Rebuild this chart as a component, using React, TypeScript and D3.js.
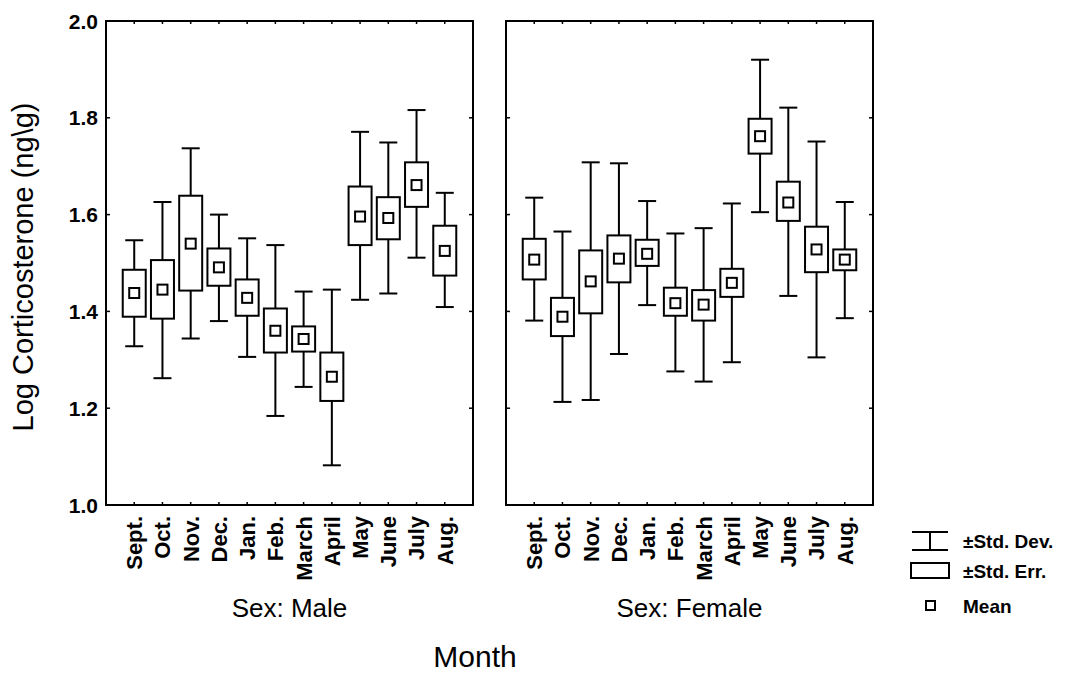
import React from "react";
import * as d3 from "d3";

const months = ["Sept.", "Oct.", "Nov.", "Dec.", "Jan.", "Feb.", "March", "April", "May", "June", "July", "Aug."];
const yTicks = [1.0, 1.2, 1.4, 1.6, 1.8, 2.0];

const maleMean = [1.438, 1.445, 1.540, 1.491, 1.428, 1.360, 1.343, 1.265, 1.596, 1.593, 1.661, 1.525];
const maleSeHigh = [1.486, 1.506, 1.639, 1.530, 1.466, 1.406, 1.369, 1.315, 1.658, 1.636, 1.708, 1.577];
const maleSeLow = [1.389, 1.385, 1.443, 1.453, 1.391, 1.315, 1.317, 1.215, 1.537, 1.549, 1.616, 1.474];
const maleSdHigh = [1.547, 1.626, 1.737, 1.600, 1.551, 1.537, 1.441, 1.445, 1.771, 1.749, 1.816, 1.645];
const maleSdLow = [1.328, 1.262, 1.344, 1.380, 1.306, 1.184, 1.244, 1.082, 1.424, 1.437, 1.511, 1.409];

const femaleMean = [1.507, 1.389, 1.462, 1.509, 1.519, 1.417, 1.414, 1.459, 1.762, 1.625, 1.528, 1.507];
const femaleSeHigh = [1.550, 1.428, 1.526, 1.557, 1.548, 1.449, 1.444, 1.488, 1.798, 1.668, 1.575, 1.528];
const femaleSeLow = [1.466, 1.349, 1.396, 1.460, 1.494, 1.391, 1.381, 1.430, 1.726, 1.587, 1.481, 1.485];
const femaleSdHigh = [1.635, 1.565, 1.708, 1.706, 1.628, 1.561, 1.572, 1.623, 1.920, 1.821, 1.751, 1.626];
const femaleSdLow = [1.381, 1.213, 1.217, 1.312, 1.413, 1.276, 1.255, 1.295, 1.605, 1.432, 1.305, 1.386];

const panelLabels = ["Sex: Male", "Sex: Female"];
const legendLabels = ["\u00b1Std. Dev.", "\u00b1Std. Err.", "Mean"];

const FONT = "'Liberation Sans', Arial, Helvetica, sans-serif";

type Series = { mean: number[]; seHi: number[]; seLo: number[]; sdHi: number[]; sdLo: number[] };
const panels: { label: string; x0: number; x1: number; s: Series }[] = [
  { label: panelLabels[0], x0: 106, x1: 473, s: { mean: maleMean, seHi: maleSeHigh, seLo: maleSeLow, sdHi: maleSdHigh, sdLo: maleSdLow } },
  { label: panelLabels[1], x0: 506, x1: 873, s: { mean: femaleMean, seHi: femaleSeHigh, seLo: femaleSeLow, sdHi: femaleSdHigh, sdLo: femaleSdLow } },
];

const TOP = 21;
const BOTTOM = 505;

export default function App() {
  const y = d3.scaleLinear().domain([1, 2]).range([BOTTOM, TOP]);
  const boxW = 23;
  const capW = 18;
  const meanS = 10;
  const sw = 2;

  return (
    <svg width={1073} height={675} style={{ position: "absolute", left: 0, top: 0, background: "#fff" }} fontFamily={FONT}>
      <rect x={0} y={0} width={1073} height={675} fill="#fff" />
      {/* y axis tick labels */}
      {yTicks.map((t) => (
        <text key={t} x={98} y={y(t)} dy="0.36em" textAnchor="end" fontSize={21} fontWeight="bold" fill="#000">
          {d3.format(".1f")(t)}
        </text>
      ))}
      <text transform={`translate(33,${(TOP + BOTTOM) / 2 + 4}) rotate(-90)`} textAnchor="middle" fontSize={29} fill="#000">
        Log Corticosterone (ng\g)
      </text>

      {panels.map((p, pi) => {
        const x = d3.scalePoint<string>().domain(months).range([p.x0, p.x1]).padding(1);
        return (
          <g key={pi}>
            <rect x={p.x0} y={TOP} width={p.x1 - p.x0} height={BOTTOM - TOP} fill="none" stroke="#000" strokeWidth={sw} />
            {yTicks.map((t) => (
              <g key={t}>
                <line x1={p.x0} x2={p.x0 + 4} y1={y(t)} y2={y(t)} stroke="#000" strokeWidth={1.5} />
                <line x1={p.x1 - 4} x2={p.x1} y1={y(t)} y2={y(t)} stroke="#000" strokeWidth={1.5} />
              </g>
            ))}
            {months.map((m) => (
              <g key={m}>
                <line x1={x(m)!} x2={x(m)!} y1={TOP} y2={TOP + 3} stroke="#000" strokeWidth={1.5} />
                <line x1={x(m)!} x2={x(m)!} y1={BOTTOM} y2={BOTTOM - 3} stroke="#000" strokeWidth={1.5} />
              </g>
            ))}
            {months.map((m, i) => {
              const cx = x(m)!;
              return (
                <g key={m} stroke="#000" strokeWidth={sw} fill="none">
                  <line x1={cx} x2={cx} y1={y(p.s.sdHi[i])} y2={y(p.s.seHi[i])} />
                  <line x1={cx} x2={cx} y1={y(p.s.seLo[i])} y2={y(p.s.sdLo[i])} />
                  <line x1={cx - capW / 2} x2={cx + capW / 2} y1={y(p.s.sdHi[i])} y2={y(p.s.sdHi[i])} />
                  <line x1={cx - capW / 2} x2={cx + capW / 2} y1={y(p.s.sdLo[i])} y2={y(p.s.sdLo[i])} />
                  <rect x={cx - boxW / 2} y={y(p.s.seHi[i])} width={boxW} height={y(p.s.seLo[i]) - y(p.s.seHi[i])} />
                  <rect x={cx - meanS / 2} y={y(p.s.mean[i]) - meanS / 2} width={meanS} height={meanS} />
                </g>
              );
            })}
            {months.map((m) => (
              <text
                key={m}
                transform={`translate(${x(m)!},${BOTTOM + 11}) rotate(-90)`}
                dy="0.36em"
                textAnchor="end"
                fontSize={22}
                fontWeight="bold"
                fill="#000"
              >
                {m}
              </text>
            ))}
            <text x={(p.x0 + p.x1) / 2} y={617} textAnchor="middle" fontSize={26} fill="#000">
              {p.label}
            </text>
          </g>
        );
      })}

      <text x={475} y={667} textAnchor="middle" fontSize={30} fill="#000">
        Month
      </text>

      {/* legend */}
      <g stroke="#000" strokeWidth={sw} fill="none">
        <line x1={912} x2={948} y1={532} y2={532} />
        <line x1={912} x2={948} y1={550} y2={550} />
        <line x1={930} x2={930} y1={532} y2={550} />
        <rect x={911} y={563} width={38} height={15} />
        <rect x={926} y={601} width={9} height={9} />
      </g>
      {legendLabels.map((l, i) => (
        <text key={l} x={963} y={[541, 571, 606][i]} dy="0.36em" fontSize={19} fontWeight="bold" fill="#000">
          {l}
        </text>
      ))}
    </svg>
  );
}
